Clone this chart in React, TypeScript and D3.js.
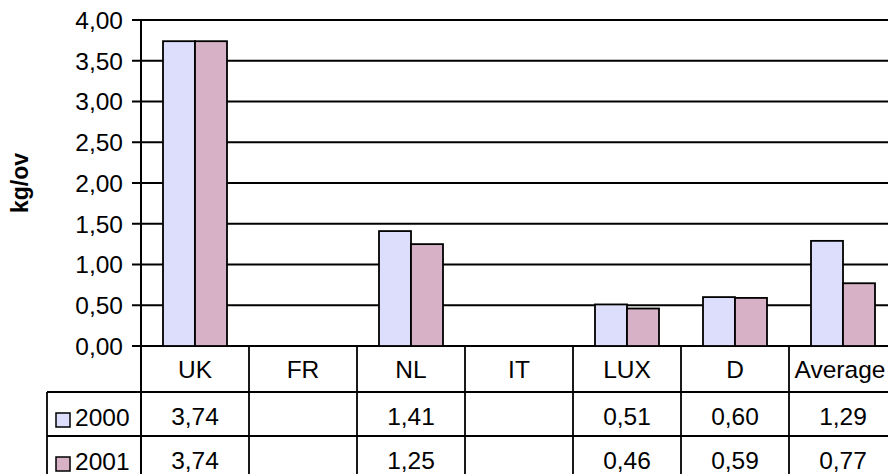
import * as d3 from "d3";

const categories = ["UK", "FR", "NL", "IT", "LUX", "D", "Average"];
const series = ["2000", "2001"];
const values2000: (number | null)[] = [3.74, null, 1.41, null, 0.51, 0.6, 1.29];
const values2001: (number | null)[] = [3.74, null, 1.25, null, 0.46, 0.59, 0.77];
const yTicks = [0, 0.5, 1, 1.5, 2, 2.5, 3, 3.5, 4];
const colors = ["#DDDDFC", "#D7B1C5"];

const W = 888;
const H = 474;
const left = 141;
const colW = 108;
const top = 20;
const base = 346;
const headerBottom = 392;
const rowH = 44;
const legendLeft = 47;
const font = "'Liberation Sans', Arial, sans-serif";
const fs = 24.5;

const fmt = (v: number) => v.toFixed(2).replace(".", ",");

export default function App() {
  const x = d3
    .scaleBand<string>()
    .domain(categories)
    .range([left, left + colW * categories.length])
    .padding(0);
  const xs = d3
    .scaleBand<string>()
    .domain(series)
    .range([0, x.bandwidth()])
    .paddingInner(0)
    .paddingOuter(0.6875);
  const y = d3.scaleLinear().domain([0, 4]).range([base, top]);
  const rows = [values2000, values2001];
  const right = left + colW * categories.length;
  const tableBottom = headerBottom + rowH * 2;

  return (
    <svg
      width={W}
      height={H}
      style={{ position: "absolute", left: 0, top: 0, background: "#fff" }}
      fontFamily={font}
    >
      {/* gridlines */}
      {yTicks.map((t) => (
        <g key={t}>
          <line x1={left - 9} x2={W} y1={y(t)} y2={y(t)} stroke="#000" strokeWidth={2} />
          <text x={123} y={y(t)} dy="0.36em" textAnchor="end" fontSize={fs}>
            {fmt(t)}
          </text>
        </g>
      ))}

      <text
        transform={`translate(28,183) rotate(-90)`}
        textAnchor="middle"
        fontSize={23}
        fontWeight="bold"
      >
        kg/ov
      </text>

      {/* bars */}
      {rows.map((vals, si) =>
        vals.map((v, ci) =>
          v == null ? null : (
            <rect
              key={`${si}-${ci}`}
              x={x(categories[ci])! + xs(series[si])!}
              y={y(v)}
              width={xs.bandwidth()}
              height={base - y(v)}
              fill={colors[si]}
              stroke="#000"
              strokeWidth={1.8}
            />
          )
        )
      )}

      {/* axis */}
      <line x1={left} x2={left} y1={top} y2={tableBottom} stroke="#000" strokeWidth={2} />

      {/* data table */}
      {categories.map((c) => (
        <g key={c}>
          <line
            x1={x(c)! + colW}
            x2={x(c)! + colW}
            y1={base}
            y2={tableBottom}
            stroke="#000"
            strokeWidth={1.8}
          />
          <text
            x={x(c)! + colW / 2 - (c === "Average" ? 3 : 0)}
            y={(base + headerBottom) / 2 + 9}
            textAnchor="middle"
            fontSize={fs}
          >
            {c}
          </text>
        </g>
      ))}
      {[headerBottom, headerBottom + rowH, tableBottom].map((ly) => (
        <line key={ly} x1={legendLeft} x2={right} y1={ly} y2={ly} stroke="#000" strokeWidth={1.8} />
      ))}
      <line x1={legendLeft} x2={legendLeft} y1={headerBottom} y2={tableBottom} stroke="#000" strokeWidth={1.8} />

      {rows.map((vals, si) => {
        const ry = headerBottom + rowH * si;
        return (
          <g key={si}>
            <rect x={56} y={ry + 21} width={14} height={14} fill={colors[si]} stroke="#000" strokeWidth={1.5} />
            <text x={75} y={ry + rowH / 2 + 12} fontSize={fs}>
              {series[si]}
            </text>
            {vals.map((v, ci) =>
              v == null ? null : (
                <text
                  key={ci}
                  x={x(categories[ci])! + colW / 2}
                  y={ry + rowH / 2 + 11}
                  textAnchor="middle"
                  fontSize={fs}
                >
                  {fmt(v)}
                </text>
              )
            )}
          </g>
        );
      })}
    </svg>
  );
}
